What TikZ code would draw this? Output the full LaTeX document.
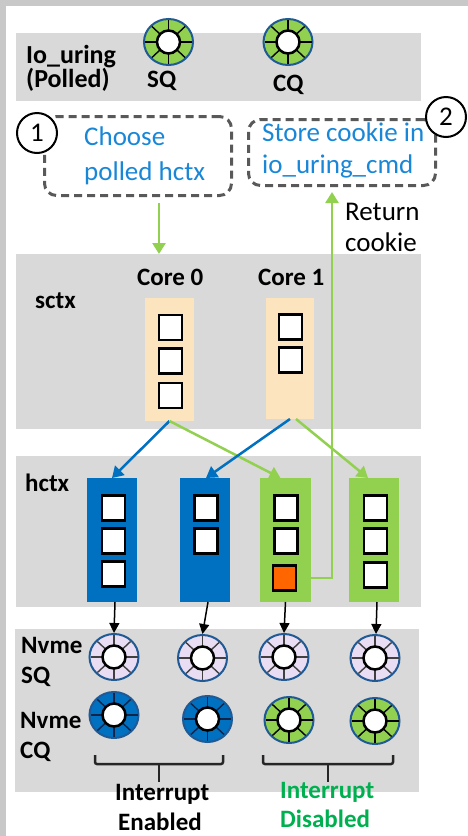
\documentclass[tikz,border=0pt]{standalone}
\usepackage{fontspec}
\setmainfont{Carlito}
\usetikzlibrary{shapes.geometric,arrows.meta,calc}

\definecolor{framegray}{RGB}{200,200,200}
\definecolor{bandgray}{RGB}{217,217,217}
\definecolor{peach}{RGB}{252,228,190}
\definecolor{hblue}{RGB}{0,112,192}
\definecolor{hgreen}{RGB}{146,208,80}
\definecolor{cookieorange}{RGB}{255,102,0}
\definecolor{noteblue}{RGB}{25,135,215}
\definecolor{dashgray}{RGB}{89,89,89}
\definecolor{ringedge}{RGB}{31,90,150}
\definecolor{lavender}{RGB}{232,221,242}
\definecolor{offgreen}{RGB}{0,176,80}
\definecolor{navyspoke}{RGB}{20,35,70}

% one queue ring: name, x, y, fill colour, spoke colour
\newcommand\qring[5]{%
  \node[qring, fill=#4] (#1) at (#2,#3) {};
  \foreach \a in {0,45,...,315}{\draw[qspoke, draw=#5] (#1.center) -- ++(\a:23.5 and 22);}
  \node[qhub] (#1hub) at (#1.center) {};
}

\begin{document}
\begin{tikzpicture}[x=1pt,y=-1pt,
  band/.style={fill=bandgray, anchor=north west, inner sep=0, outer sep=0},
  colbox/.style={anchor=north west, inner sep=0, outer sep=0},
  slot/.style={draw=black, line width=2.5pt, fill=white, minimum width=23pt, minimum height=25pt, inner sep=0},
  lbl/.style={anchor=base west, inner sep=0, font=\fontsize{25}{28}\selectfont\bfseries},
  note/.style={anchor=base west, inner sep=0, font=\fontsize{27}{32}\selectfont},
  dbox/.style={draw=dashgray, dash pattern=on 8pt off 5pt, line width=3pt, rounded corners=12pt, inner sep=0},
  numc/.style={circle, draw=black, line width=2pt, fill=white, minimum size=40pt, inner sep=0, font=\fontsize{27}{32}\selectfont},
  garrow/.style={draw=hgreen, line width=2.5pt, -{Triangle[length=11pt,width=13pt]}},
  barrow/.style={draw=hblue, line width=2.5pt, -{Triangle[length=11pt,width=13pt]}},
  karrow/.style={draw=black, line width=1.5pt, -{Triangle[length=10pt,width=10pt]}},
  qring/.style={ellipse, draw=ringedge, line width=2pt, minimum width=49pt, minimum height=46pt, inner sep=0},
  qhub/.style={circle, draw=black, line width=2.5pt, fill=white, minimum size=23pt, inner sep=0},
  qspoke/.style={line width=1.4pt},
  brace/.style={draw=black!85, line width=2.5pt, rounded corners=2pt}
]
\useasboundingbox (0,0) rectangle (468,836);
\fill[white] (0,0) rectangle (468,836);
\fill[framegray] (0,0) rectangle (468,6);
\fill[framegray] (0,0) rectangle (6,836);

% layer bands
\node[band, minimum width=405pt, minimum height=68pt]  (bandio)   at (16,33)  {};
\node[band, minimum width=405pt, minimum height=175pt] (bandsctx) at (16,254) {};
\node[band, minimum width=405pt, minimum height=151pt] (bandhctx) at (16,456) {};
\node[band, minimum width=404pt, minimum height=163pt] (bandnvme) at (15,629) {};

% io_uring layer
\node[lbl, font=\fontsize{26}{30}\selectfont\bfseries] (tio1) at (26,63) {Io\_uring};
\node[lbl, font=\fontsize{26}{30}\selectfont\bfseries] (tio2) at (26,87) {(Polled)};
\qring{iosq}{168.5}{42}{hgreen}{black}
\qring{iocq}{288}{42}{hgreen}{black}
\node[lbl] (tsq) at (147,87) {SQ};
\node[lbl] (tcq) at (273,91) {CQ};

% software contexts
\node[lbl] (tsctx) at (35,308) {sctx};
\node[lbl] (tcore0) at (137,285) {Core 0};
\node[lbl] (tcore1) at (258,285) {Core 1};
\node[colbox, fill=peach, minimum width=49pt, minimum height=123pt] (c0) at (145,298) {};
\node[colbox, fill=peach, minimum width=48pt, minimum height=121pt] (c1) at (266,298) {};
\node[slot] (c0a) at (170.5,327.5) {};
\node[slot] (c0b) at (170.5,361) {};
\node[slot] (c0c) at (170.5,395.5) {};
\node[slot] (c1a) at (290.5,327) {};
\node[slot] (c1b) at (290.5,360) {};

% hardware contexts
\node[lbl] (thctx) at (25,491) {hctx};
\node[colbox, fill=hblue,  minimum width=50pt, minimum height=124pt] (h1) at (87,478)  {};
\node[colbox, fill=hblue,  minimum width=50pt, minimum height=124pt] (h2) at (180,478) {};
\node[colbox, fill=hgreen, minimum width=51pt, minimum height=124pt] (h3) at (260,478) {};
\node[colbox, fill=hgreen, minimum width=50pt, minimum height=124pt] (h4) at (349,478) {};
\node[slot] (h1a) at (113.5,508) {};
\node[slot] (h1b) at (113.5,541) {};
\node[slot] (h1c) at (113.5,574) {};
\node[slot] (h2a) at (206,508) {};
\node[slot] (h2b) at (206,541) {};
\node[slot] (h3a) at (286,508) {};
\node[slot] (h3b) at (286,541) {};
\node[slot, fill=cookieorange] (orng) at (284.5,578) {};
\node[slot] (h4a) at (375.5,508) {};
\node[slot] (h4b) at (375.5,541) {};
\node[slot] (h4c) at (375.5,575) {};

% NVMe queues
\node[lbl] (tnsq1) at (21,653) {Nvme};
\node[lbl] (tnsq2) at (21,683) {SQ};
\node[lbl] (tncq1) at (20,728) {Nvme};
\node[lbl] (tncq2) at (20,758) {CQ};
\qring{sq1}{114}{657}{lavender}{black!75}
\qring{sq2}{202.5}{658}{lavender}{black!75}
\qring{sq3}{284}{657}{lavender}{black!75}
\qring{sq4}{375}{658}{lavender}{black!75}
\qring{cq1}{114}{715}{hblue}{navyspoke}
\qring{cq2}{207.5}{719}{hblue}{navyspoke}
\qring{cq3}{289}{720}{hgreen}{black}
\qring{cq4}{375}{721}{hgreen}{black}

% interrupt groups
\draw[brace] (95,755) -- (95,764) -- (223,764) -- (223,755);
\draw[brace] (159,764) -- (159,782);
\draw[brace] (263,755) -- (263,764) -- (393,764) -- (393,755);
\draw[brace] (328,764) -- (328,782);
\node[lbl] (ten1) at (115,800) {Interrupt};
\node[lbl] (ten2) at (118,830) {Enabled};
\node[lbl, text=offgreen] (tdis1) at (280,798) {Interrupt};
\node[lbl, text=offgreen] (tdis2) at (280,827) {Disabled};

% mapping sctx -> hctx
\draw[barrow] (c0.south) -- ([xshift=0pt]h1.north);
\draw[garrow] (c0.south) -- ([xshift=-5pt]h3.north);
\draw[barrow] (c1.south) -- ([xshift=1pt]h2.north);
\draw[garrow] ([xshift=6pt]c1.south) -- ([xshift=-6pt]h4.north);

% hctx -> NVMe submission queues
\draw[karrow] ([xshift=3pt]h1.south) -- (sq1.north);
\draw[karrow] ([xshift=3pt]h2.south) -- (sq2.north);
\draw[karrow] (h3.south) -- (sq3.north);
\draw[karrow] ([xshift=3pt]h4.south) -- ([xshift=1pt]sq4.north);

% steps
\node[dbox, minimum width=187pt, minimum height=79pt] (box1) at (138,156) {};
\node[dbox, minimum width=187pt, minimum height=66pt] (box2) at (342,152.5) {};
\node[note, text=noteblue] (tb1a) at (84,145) {Choose};
\node[note, text=noteblue] (tb1b) at (84,180) {polled hctx};
\node[note, text=noteblue] (tb2a) at (262,141) {Store cookie in};
\node[note, text=noteblue] (tb2b) at (262,173) {io\_uring\_cmd};
\node[numc] (n1) at (37,133) {1};
\node[numc] (n2) at (446,117) {2};

\coordinate (a1s) at (159,203);
\draw[garrow] (a1s) -- (a1s |- bandsctx.north);
\coordinate (ck) at (332,192);
\draw[garrow] (orng.east) -| (ck);
\node[note] (tret1) at (345,220) {Return};
\node[note] (tret2) at (345,251) {cookie};
\end{tikzpicture}
\end{document}
